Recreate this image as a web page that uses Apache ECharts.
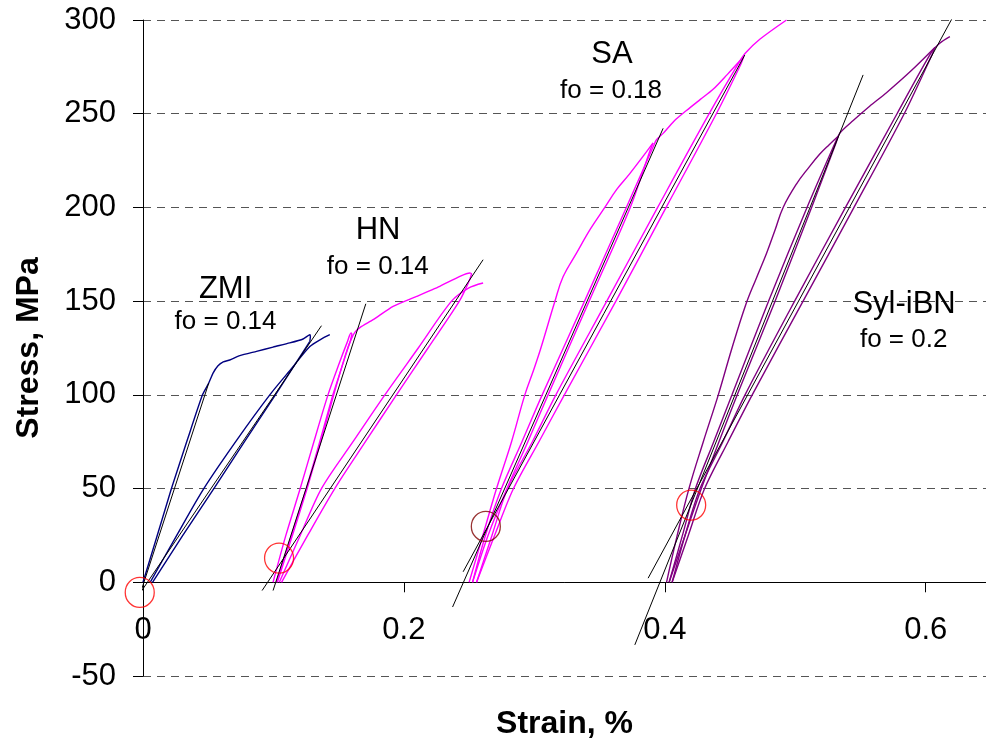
<!DOCTYPE html>
<html><head><meta charset="utf-8">
<script src="https://cdn.jsdelivr.net/npm/echarts@6/dist/echarts.min.js"></script>
<style>html,body{margin:0;padding:0;background:#fff}#c{width:986px;height:746px}</style>
</head><body><div id="c"></div>
<script>
// ---- axis ticks ----
const xTicks = [0, 0.2, 0.4, 0.6];
const yTicks = [-50, 0, 50, 100, 150, 200, 250, 300];

// ---- ZMI (navy) ----
const zmiLoad = [[0,0],[0.0105,24],[0.0218,50],[0.034,76],[0.0456,100],[0.0504,106.3],[0.0537,111.6],[0.0575,115.5],[0.0615,117.6],[0.0665,118.6],[0.0742,120.9],[0.087,123.2],[0.0997,125.5],[0.1125,127.7],[0.1227,129.8],[0.1279,132.1],[0.1283,131.2],[0.1279,128.5]];
const zmiUnload = [[0.1279,128.5],[0.1015,100],[0.0778,75],[0.0543,50],[0.0305,25],[0.0073,0]];
const zmiReload = [[0.0055,0],[0.025,24],[0.0466,50],[0.072,76],[0.0972,100],[0.115,115],[0.1279,125.8],[0.136,129.5],[0.1432,132.1]];
const zmiTangent1 = [[-0.0126,-28.5],[0.0504,106.3]];
const zmiTangent2 = [[-0.0126,-16.4],[0.1368,136.9]];
const zmiMark = [[-0.0025,-5.4]];

// ---- HN (magenta) ----
const hnLoad = [[0.0997,0],[0.1095,25],[0.1205,50],[0.131,75],[0.1418,100],[0.1505,117],[0.1565,128],[0.1595,133],[0.1602,132.5]];
const hnUnload1 = [[0.1602,132.5],[0.159,129],[0.1455,100],[0.1355,75],[0.1252,50],[0.1138,25],[0.1023,0]];
const hnReload1 = [[0.1030,0],[0.1145,25],[0.1258,50],[0.1362,75],[0.1462,100],[0.1555,122],[0.1598,130],[0.1625,133.5],[0.1665,136],[0.1764,140.1],[0.1917,147.2],[0.2097,152.5],[0.2275,157.9],[0.2429,163.2],[0.2506,165],[0.2518,164.6],[0.2495,160]];
const hnUnload2 = [[0.2495,160],[0.2425,150],[0.2185,125],[0.1943,100],[0.1705,75],[0.147,50],[0.1262,25],[0.1062,0]];
const hnReload2 = [[0.1045,0],[0.1205,25],[0.1368,50],[0.161,75],[0.1854,100],[0.211,125],[0.2365,150],[0.2495,157],[0.2607,159.7]];
const hnTangent1 = [[0.0997,-4.4],[0.1708,148.6]];
const hnTangent2 = [[0.0913,-4.4],[0.2607,172.1]];
const hnMark = [[0.1043,12.9]];

// ---- SA (magenta) ----
const saLoad = [[0.25,0],[0.2605,25],[0.271,50],[0.2825,75],[0.2927,100],[0.2995,113.4],[0.305,125],[0.3157,149.8],[0.322,163],[0.3323,175.6],[0.343,188.5],[0.354,200],[0.363,209.5],[0.373,217.9],[0.383,227],[0.391,234.4]];
const saUnload1 = [[0.391,234.4],[0.3885,230],[0.3735,200],[0.342,150],[0.3105,100],[0.295,75],[0.279,50],[0.2645,25],[0.2526,0]];
const saReload1 = [[0.2526,0],[0.2625,25],[0.2748,50],[0.2905,75],[0.306,100],[0.3385,150],[0.3705,200],[0.3915,233],[0.3935,236],[0.3987,239.5],[0.407,246],[0.4166,251.7],[0.427,257.5],[0.437,263],[0.448,271],[0.4605,280.5]];
const saUnload2 = [[0.4605,280.5],[0.458,276],[0.4395,250],[0.401,200],[0.3625,150],[0.323,100],[0.3035,75],[0.284,50],[0.2695,25],[0.2557,0]];
const saReload2 = [[0.2557,0],[0.2675,25],[0.2795,50],[0.2985,75],[0.3165,100],[0.3555,150],[0.3945,200],[0.434,250],[0.4575,278],[0.462,282.5],[0.4728,289.7],[0.4933,300]];
const saTangent1 = [[0.2373,-13.2],[0.3987,242.2]];
const saTangent2 = [[0.2454,5.6],[0.4613,281.3]];
const saMark = [[0.2628,29.8]];

// ---- Syl-iBN (purple) ----
const sylLoad = [[0.4013,0],[0.4095,25],[0.4185,50],[0.4295,75],[0.441,100],[0.4515,125],[0.4621,148.2],[0.47,162],[0.478,175.6],[0.4845,188],[0.4907,200],[0.501,212.6],[0.51,221],[0.5188,228.5],[0.526,233.5],[0.5329,238]];
const sylUnload1 = [[0.5329,238],[0.531,234],[0.5125,200],[0.4845,150],[0.4555,100],[0.4415,75],[0.428,50],[0.4155,25],[0.4033,0]];
const sylReload1 = [[0.4033,0],[0.4135,25],[0.4235,50],[0.4375,75],[0.4515,100],[0.4795,150],[0.509,200],[0.5315,236],[0.5345,240],[0.5444,246.4],[0.557,254],[0.5699,261.2],[0.589,273],[0.607,285.3]];
const sylUnload2 = [[0.607,285.3],[0.6045,281],[0.5835,250],[0.545,200],[0.506,150],[0.467,100],[0.4485,75],[0.4305,50],[0.418,25],[0.4056,0]];
const sylReload2 = [[0.4056,0],[0.4155,25],[0.427,50],[0.4445,75],[0.4615,100],[0.4995,150],[0.5385,200],[0.578,250],[0.6045,283],[0.6105,287.5],[0.6185,291.1]];
const sylTangent1 = [[0.377,-33.4],[0.552,270.7]];
const sylTangent2 = [[0.3872,2.2],[0.6198,300.3]];
const sylMark = [[0.4202,41.2]];

// ---- annotations ----
const annotTexts = ['ZMI','fo = 0.14','HN','fo = 0.14','SA','fo = 0.18','Syl-iBN','fo = 0.2'];
const annotPoints = [[0.0633,156.5],[0.0633,139.0],[0.1802,187.7],[0.18,168.3],[0.3595,281.5],[0.3588,262.3],[0.5834,148.2],[0.5831,129.2]];

const FONT = 'Liberation Sans, Arial, sans-serif';
const NAVY = '#000080', MAG = '#FF00FF', PURP = '#800080';

function curve(data, color, smooth){
  return {type:'line', data, symbol:'none', showSymbol:false, smooth:smooth||false, silent:true,
    lineStyle:{color, width:1.4}, z:2, animation:false};
}
function tangent(data){
  return {type:'line', data, symbol:'none', showSymbol:false, clip:false, silent:true,
    lineStyle:{color:'#000', width:1}, z:4, animation:false};
}
function mark(data, color){
  return {type:'scatter', data, symbol:'circle', symbolSize:[29,30], clip:false, silent:true,
    itemStyle:{color:'rgba(0,0,0,0)', borderColor:color, borderWidth:1.3}, z:5, animation:false};
}

const series = [
  curve(zmiLoad,NAVY,0.2), curve(zmiUnload,NAVY), curve(zmiReload,NAVY,0.3),
  curve(hnLoad,MAG,0.3), curve(hnUnload1,MAG), curve(hnReload1,MAG,0.2), curve(hnUnload2,MAG,0.3), curve(hnReload2,MAG,0.3),
  curve(saLoad,MAG,0.4), curve(saUnload1,MAG,0.3), curve(saReload1,MAG,0.3), curve(saUnload2,MAG,0.3), curve(saReload2,MAG,0.3),
  curve(sylLoad,PURP,0.4), curve(sylUnload1,PURP,0.3), curve(sylReload1,PURP,0.3), curve(sylUnload2,PURP,0.3), curve(sylReload2,PURP,0.3),
  tangent(zmiTangent1), tangent(zmiTangent2), tangent(hnTangent1), tangent(hnTangent2),
  tangent(saTangent1), tangent(saTangent2), tangent(sylTangent1), tangent(sylTangent2),
  mark(zmiMark,'#FF0000'), mark(hnMark,'#FF0000'), mark(saMark,'#800000'), mark(sylMark,'#FF0000'),
  {type:'scatter', silent:true, clip:false, symbolSize:0.01, itemStyle:{color:'#fff', opacity:1}, z:6, animation:false,
   data: annotTexts.map((t,i)=>({name:t, value:annotPoints[i],
     label:{show:true, position:[0,0], align:'center', verticalAlign:'middle', formatter:'{b}', color:'#000',
       textBorderWidth:0, fontFamily:FONT, fontSize: t.startsWith('fo') ? 26 : 31}}))}
];

// y-range shown and plot box (pixels) -> offset of x axis so it sits at stress 0
const Y_MIN = -50, Y_MAX = 300, GRID_TOP = 20, GRID_BOTTOM = 70, H = 746;
const plotH = H - GRID_TOP - GRID_BOTTOM;
const zeroOffset = -plotH * (0 - Y_MIN) / (Y_MAX - Y_MIN);

const chart = echarts.init(document.getElementById('c'));
chart.setOption({
  animation:false,
  backgroundColor:'#fff',
  grid:{left:143, right:0, top:GRID_TOP, bottom:GRID_BOTTOM, containLabel:false, outerBoundsMode:'none'},
  xAxis:{type:'value', min:0, max:0.6462, position:'bottom', offset:zeroOffset,
    name:'Strain, %', nameLocation:'middle', nameGap:126,
    nameTextStyle:{fontFamily:FONT, fontSize:32, fontWeight:'bold', color:'#000'},
    axisLine:{show:true, onZero:false, lineStyle:{color:'#000', width:1}},
    axisTick:{show:true, length:10, inside:false, customValues:xTicks, lineStyle:{color:'#000'}},
    axisLabel:{show:true, customValues:xTicks, margin:33, fontFamily:FONT, fontSize:31, color:'#000',
      formatter:v=>String(v)},
    splitLine:{show:false}},
  yAxis:{type:'value', min:Y_MIN, max:Y_MAX, interval:50,
    name:'Stress, MPa', nameLocation:'middle', nameGap:98, nameRotate:90,
    nameTextStyle:{fontFamily:FONT, fontSize:32, fontWeight:'bold', color:'#000'},
    axisLine:{show:true, onZero:false, lineStyle:{color:'#000', width:1}},
    axisTick:{show:true, length:10, inside:false, lineStyle:{color:'#000'}},
    axisLabel:{show:true, margin:27, fontFamily:FONT, fontSize:31, color:'#000',
      customValues:yTicks},
    splitLine:{show:true, lineStyle:{color:'#555', width:1, type:[8,6]}}},
  series
});
</script></body></html>
